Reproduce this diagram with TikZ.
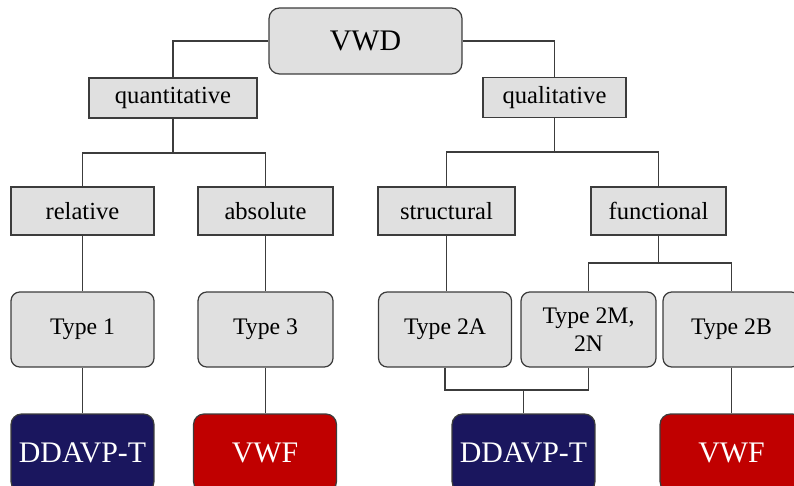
\documentclass[tikz,border=0pt]{standalone}
\usepackage{fontspec}
\setmainfont{Liberation Serif}
\usepackage{tikz}
\usetikzlibrary{positioning}
\definecolor{boxgray}{RGB}{224,224,224}
\definecolor{edgegray}{RGB}{60,60,60}
\definecolor{navy}{RGB}{26,22,94}
\definecolor{darkred}{RGB}{192,0,0}

\begin{document}
\begin{tikzpicture}[x=0.02cm,y=-0.02cm]
            \tikzstyle{every node}+=[inner sep=0pt]
            \tikzstyle{catbox}=[draw=edgegray,fill=boxgray,line width=0.7pt,font=\fontsize{14}{16}\selectfont,minimum height=0.96cm]
            \tikzstyle{typebox}=[catbox,rounded corners=5pt,minimum height=1.5cm,font=\fontsize{13.5}{16}\selectfont,align=center]
            \tikzstyle{treatbox}=[draw=edgegray,line width=0.7pt,rounded corners=6pt,text=white,minimum width=2.86cm,minimum height=1.56cm,font=\fontsize{17}{20}\selectfont]
            \tikzstyle{link}=[draw=edgegray,line width=0.8pt]
            \useasboundingbox (0,0) rectangle (794,486);
            \clip (0,0) rectangle (794,486);
            % top
            \node [catbox,rounded corners=6pt,minimum width=3.86cm,minimum height=1.32cm,font=\fontsize{17}{20}\selectfont] (vwd) at (365.5,41) {VWD};
            \node [catbox,minimum width=3.36cm,minimum height=0.8cm] (quant) at (173,98) {quantitative};
            \node [catbox,minimum width=2.86cm,minimum height=0.8cm] (qual) at (554.5,97.5) {qualitative};
            % second level
            \node [catbox,minimum width=2.86cm] (rel) at (82.5,211) {relative};
            \node [catbox,minimum width=2.7cm] (abs) at (265.5,211) {absolute};
            \node [catbox,minimum width=2.74cm] (struct) at (446.5,211) {structural};
            \node [catbox,minimum width=2.7cm] (func) at (658.5,211) {functional};
            % types
            \node [typebox,minimum width=2.86cm] (t1) at (82.5,329.5) {Type 1};
            \node [typebox,minimum width=2.7cm] (t3) at (265.5,329.5) {Type 3};
            \node [typebox,minimum width=2.66cm] (t2a) at (445,329.5) {Type 2A};
            \node [typebox,minimum width=2.7cm] (t2m) at (588.5,329.5) {Type 2M,\\2N};
            \node [typebox,minimum width=2.74cm] (t2b) at (731.5,329.5) {Type 2B};
            % treatment
            \node [treatbox,fill=navy] (dd1) at (82.5,453) {DDAVP-T};
            \node [treatbox,fill=darkred] (vwf1) at (265,453) {VWF};
            \node [treatbox,fill=navy] (dd2) at (523.5,453) {DDAVP-T};
            \node [treatbox,fill=darkred] (vwf2) at (731.5,453) {VWF};
            \coordinate (qbus) at (173,153);
            \coordinate (lbus) at (554.5,152);
            \coordinate (fbus) at (658.5,263);
            \coordinate (dbus) at (523.5,390);
            \draw [link] (vwd.west) -| (quant.north);
            \draw [link] (vwd.east) -| (qual.north);
            \draw [link] (quant.south) -- (qbus);
            \draw [link] (rel.north) |- (qbus) -| (abs.north);
            \draw [link] (qual.south) -- (lbus);
            \draw [link] (struct.north) |- (lbus) -| (func.north);
            \draw [link] (rel.south) -- (t1.north);
            \draw [link] (abs.south) -- (abs.south |- t3.north);
            \draw [link] (struct.south) -- (struct.south |- t2a.north);
            \draw [link] (func.south) -- (fbus);
            \draw [link] (t2m.north) |- (fbus) -| (t2b.north);
            \draw [link] (t1.south) -- (dd1.north);
            \draw [link] (t3.south) -- (t3.south |- vwf1.north);
            \draw [link] (t2b.south) -- (vwf2.north);
            \draw [link] (t2a.south) |- (dbus) -| (t2m.south);
            \draw [link] (dbus) -- (dd2.north);
\end{tikzpicture}
\end{document}
